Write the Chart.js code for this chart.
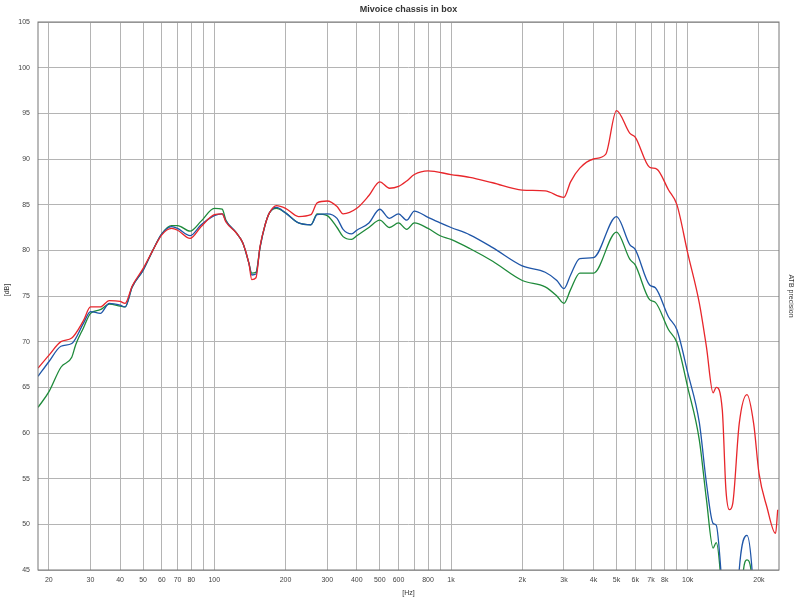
<!DOCTYPE html>
<html>
<head>
<meta charset="utf-8">
<script src="https://cdn.jsdelivr.net/npm/chart.js@4"></script>
<style>
  html, body { margin: 0; padding: 0; background: #fff; }
  #wrap { width: 800px; height: 602px; }
</style>
</head>
<body>
<div id="wrap"><canvas id="fr"></canvas></div>
<script>
// frequency response, Hz / dB
const redFreq = [18, 20, 22.5, 25, 28, 30, 33, 36, 40, 42, 45, 50, 55, 60, 66, 70, 79, 88, 100, 108, 112, 124, 132, 140, 144, 150, 156, 164, 171, 183, 200, 227, 256, 272, 300, 330, 350, 400, 450, 500, 550, 600, 650, 700, 800, 1000, 1200, 1500, 2000, 2500, 3000, 3200, 3500, 4000, 4500, 5000, 5700, 6000, 6900, 7400, 8300, 9000, 10000, 11200, 12000, 12800, 13200, 14000, 14500, 15000, 15500, 16500, 17800, 19000, 20000, 21600, 23500, 24000];
const redDb = [67.1, 68.5, 70.0, 70.4, 72.3, 73.8, 73.8, 74.5, 74.4, 74.2, 76.1, 78.0, 80.0, 81.7, 82.4, 82.2, 81.3, 82.6, 83.9, 84.0, 83.1, 81.9, 80.8, 78.6, 76.8, 77.0, 80.4, 82.8, 84.1, 84.9, 84.6, 83.7, 83.9, 85.2, 85.4, 84.8, 84.0, 84.6, 86.0, 87.5, 86.8, 87.0, 87.6, 88.3, 88.7, 88.3, 88.0, 87.4, 86.6, 86.5, 85.8, 87.5, 89.0, 90.0, 90.5, 95.3, 92.8, 92.4, 89.1, 88.9, 86.6, 85.0, 79.7, 74.2, 69.4, 64.4, 65.0, 62.5, 53.8, 51.6, 52.3, 61.0, 64.2, 61.0, 55.6, 51.9, 49.0, 51.6];

const blueFreq = [18, 20, 22.5, 25, 28, 30, 33, 36, 40, 42, 45, 50, 55, 60, 66, 70, 79, 88, 100, 108, 112, 124, 132, 140, 144, 150, 156, 164, 171, 183, 200, 227, 256, 272, 300, 330, 350, 380, 400, 450, 500, 550, 600, 650, 700, 800, 900, 1000, 1200, 1500, 2000, 2500, 2800, 3000, 3200, 3500, 4000, 5000, 5700, 6000, 6900, 7300, 8300, 9000, 10000, 11200, 12000, 12800, 13200, 13800, 14300, 16000, 16500, 17800, 18700, 19300];
const blueDb = [66.2, 67.8, 69.5, 69.8, 72.0, 73.3, 73.1, 74.2, 74.0, 73.8, 76.0, 77.8, 80.0, 81.8, 82.6, 82.4, 81.6, 82.8, 83.8, 84.0, 83.2, 81.9, 80.8, 78.6, 77.3, 77.4, 80.3, 82.8, 84.1, 84.7, 84.1, 83.0, 82.8, 83.9, 84.0, 83.5, 82.3, 81.8, 82.2, 83.0, 84.5, 83.5, 84.0, 83.3, 84.3, 83.6, 83.0, 82.5, 81.7, 80.3, 78.3, 77.6, 76.7, 75.8, 77.3, 79.1, 79.2, 83.7, 80.6, 80.1, 76.2, 75.9, 72.7, 71.3, 66.6, 61.1, 54.5, 50.1, 49.9, 45.0, 38, 38, 45.0, 48.8, 45.0, 38];

const greenFreq = [18, 20, 22.5, 25, 26, 28, 30, 33, 36, 40, 42, 45, 50, 55, 60, 66, 70, 79, 88, 100, 108, 112, 124, 132, 140, 144, 150, 156, 164, 171, 183, 200, 227, 256, 272, 300, 330, 350, 380, 400, 450, 500, 550, 600, 650, 700, 800, 900, 1000, 1200, 1500, 2000, 2500, 2800, 3000, 3200, 3500, 4000, 5000, 5700, 6000, 6900, 7300, 8300, 9000, 10000, 11200, 12000, 12800, 13200, 13700, 14200, 16500, 17200, 17800, 18500, 19000];
const greenDb = [62.8, 64.5, 67.2, 68.3, 69.7, 71.5, 73.1, 73.5, 74.1, 73.9, 73.8, 76.0, 77.8, 80.0, 81.8, 82.7, 82.7, 82.1, 83.2, 84.6, 84.5, 83.3, 81.9, 80.8, 78.6, 77.5, 77.6, 80.3, 82.8, 84.1, 84.6, 84.1, 83.0, 82.8, 84.0, 83.8, 82.5, 81.5, 81.2, 81.6, 82.5, 83.3, 82.5, 83.0, 82.3, 83.0, 82.4, 81.6, 81.2, 80.2, 78.8, 76.7, 76.0, 75.0, 74.2, 75.7, 77.5, 77.5, 82.0, 79.0, 78.4, 74.6, 74.3, 71.3, 69.9, 65.0, 59.2, 52.7, 47.4, 48.0, 45.0, 38, 38, 45.0, 46.1, 45.0, 38];

const gridFreqs = [20, 30, 40, 50, 60, 70, 80, 90, 100, 200, 300, 400, 500, 600, 700, 800, 900, 1000, 2000, 3000, 4000, 5000, 6000, 7000, 8000, 9000, 10000, 20000];
const xLabels = {20: '20', 30: '30', 40: '40', 50: '50', 60: '60', 70: '70', 80: '80', 100: '100', 200: '200', 300: '300', 400: '400', 500: '500', 600: '600', 800: '800', 1000: '1k', 2000: '2k', 3000: '3k', 4000: '4k', 5000: '5k', 6000: '6k', 7000: '7k', 8000: '8k', 10000: '10k', 20000: '20k'};

function pts(f, d) { return f.map((v, i) => ({x: v, y: d[i]})); }

const tickFont = {family: 'Arial, "Liberation Sans", sans-serif', size: 7};

const extras = {
    id: 'extras',
    afterDraw(chart) {
        const c = chart.ctx, a = chart.chartArea;
        c.save();
        c.fillStyle = '#333';
        c.font = 'bold 9px Arial, "Liberation Sans", sans-serif';
        c.textAlign = 'center';
        c.fillText('Mivoice chassis in box', (a.left + a.right) / 2, 12);
        c.font = '7px Arial, "Liberation Sans", sans-serif';
        c.fillText('[Hz]', (a.left + a.right) / 2, 595);
        c.translate(9, 290);
        c.rotate(-Math.PI / 2);
        c.fillText('[dB]', 0, 0);
        c.restore();
        c.save();
        c.fillStyle = '#333';
        c.font = '7px Arial, "Liberation Sans", sans-serif';
        c.textAlign = 'center';
        c.translate(789, 296);
        c.rotate(Math.PI / 2);
        c.fillText('ATB precision', 0, 0);
        c.restore();
        // border
        c.save();
        c.strokeStyle = '#777';
        c.lineWidth = 1;
        c.strokeRect(a.left, a.top, a.right - a.left, a.bottom - a.top);
        c.restore();
    }
};

const lineStyle = {borderWidth: 1.3, pointRadius: 0, cubicInterpolationMode: 'monotone'};

new Chart('fr', {
    type: 'line',
    data: {
        datasets: [
            {data: pts(redFreq, redDb), borderColor: '#e8262b', ...lineStyle},
            {data: pts(blueFreq, blueDb), borderColor: '#1f56a8', ...lineStyle},
            {data: pts(greenFreq, greenDb), borderColor: '#1e8a3a', ...lineStyle}
        ]
    },
    options: {
        responsive: true,
        maintainAspectRatio: false,
        animation: false,
        layout: {padding: {top: 22, right: 21, left: 0, bottom: 0}},
        plugins: {legend: {display: false}, tooltip: {enabled: false}},
        scales: {
            x: {
                type: 'logarithmic',
                min: 18, max: 24300,
                afterBuildTicks: s => { s.ticks = gridFreqs.map(v => ({value: v})); },
                afterFit: s => { s.height = 32; },
                grid: {color: '#b4b4b4', drawTicks: false},
                border: {display: false},
                ticks: {
                    autoSkip: false, maxRotation: 0, color: '#444', font: tickFont, padding: 6,
                    callback: v => xLabels[v] || ''
                }
            },
            y: {
                min: 45, max: 105,
                afterFit: s => { s.width = 38; },
                grid: {color: '#b4b4b4', drawTicks: false},
                border: {display: false},
                ticks: {stepSize: 5, color: '#444', font: tickFont, padding: 8}
            }
        }
    },
    plugins: [extras]
});
</script>
</body>
</html>
